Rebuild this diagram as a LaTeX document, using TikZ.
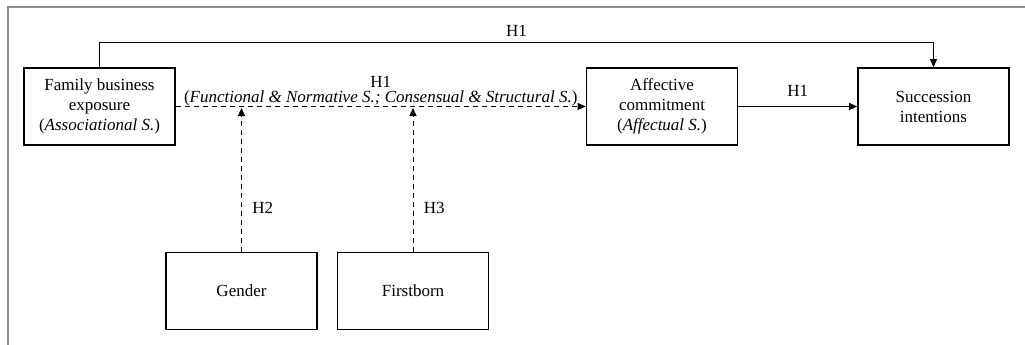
\documentclass[tikz,border=0pt]{standalone}
\usepackage{fontspec}
\setmainfont{Liberation Serif}
\usetikzlibrary{arrows.meta}
\definecolor{framegray}{gray}{0.55}

\begin{document}
\begin{tikzpicture}[x=1pt,y=-1pt,font=\fontsize{17}{20}\selectfont,
	varbox/.style={draw,line width=1.7pt,minimum width=151pt,minimum height=77pt,align=center,inner sep=2pt},
	link/.style={line width=0.9pt,-{Triangle[length=8pt,width=7pt]}},
	modlink/.style={link,dash pattern=on 5pt off 4pt}]
			\useasboundingbox (0,0) rectangle (1025,345);
			\draw[framegray,line width=1.2pt] (8,345)-- (8,7)-- (1025,7);
			\node[varbox] (fbe) at (99.5,106.5) {Family business\\exposure\\(\textit{Associational S.})};
			\node[varbox] (affect) at (662,106.5) {Affective\\commitment\\(\textit{Affectual S.})};
			\node[varbox] (succ) at (933.5,106.5) {Succession\\intentions};
			\node[varbox] (gender) at (241.5,291) {Gender};
			\node[varbox] (firstb) at (413,291) {Firstborn};
			\draw[link] (fbe.north)-- ++(0,-25) -| node[pos=0.25,above=2pt] {H1} (succ.north);
			\draw[modlink] (fbe)-- node[above=-3pt,align=center] {H1\\[-5pt](\textit{Functional \& Normative S.; Consensual \& Structural S.})} (affect);
			\draw[link] (affect)-- node[above=6pt] {H1} (succ);
			\draw[modlink,shorten >=1.5pt] (gender.north)-- node[pos=0.3,right=7pt] {H2} (gender.north |- fbe.east);
			\draw[modlink,shorten >=1.5pt] (firstb.north)-- node[pos=0.3,right=7pt] {H3} (firstb.north |- fbe.east);
		\end{tikzpicture}
\end{document}
